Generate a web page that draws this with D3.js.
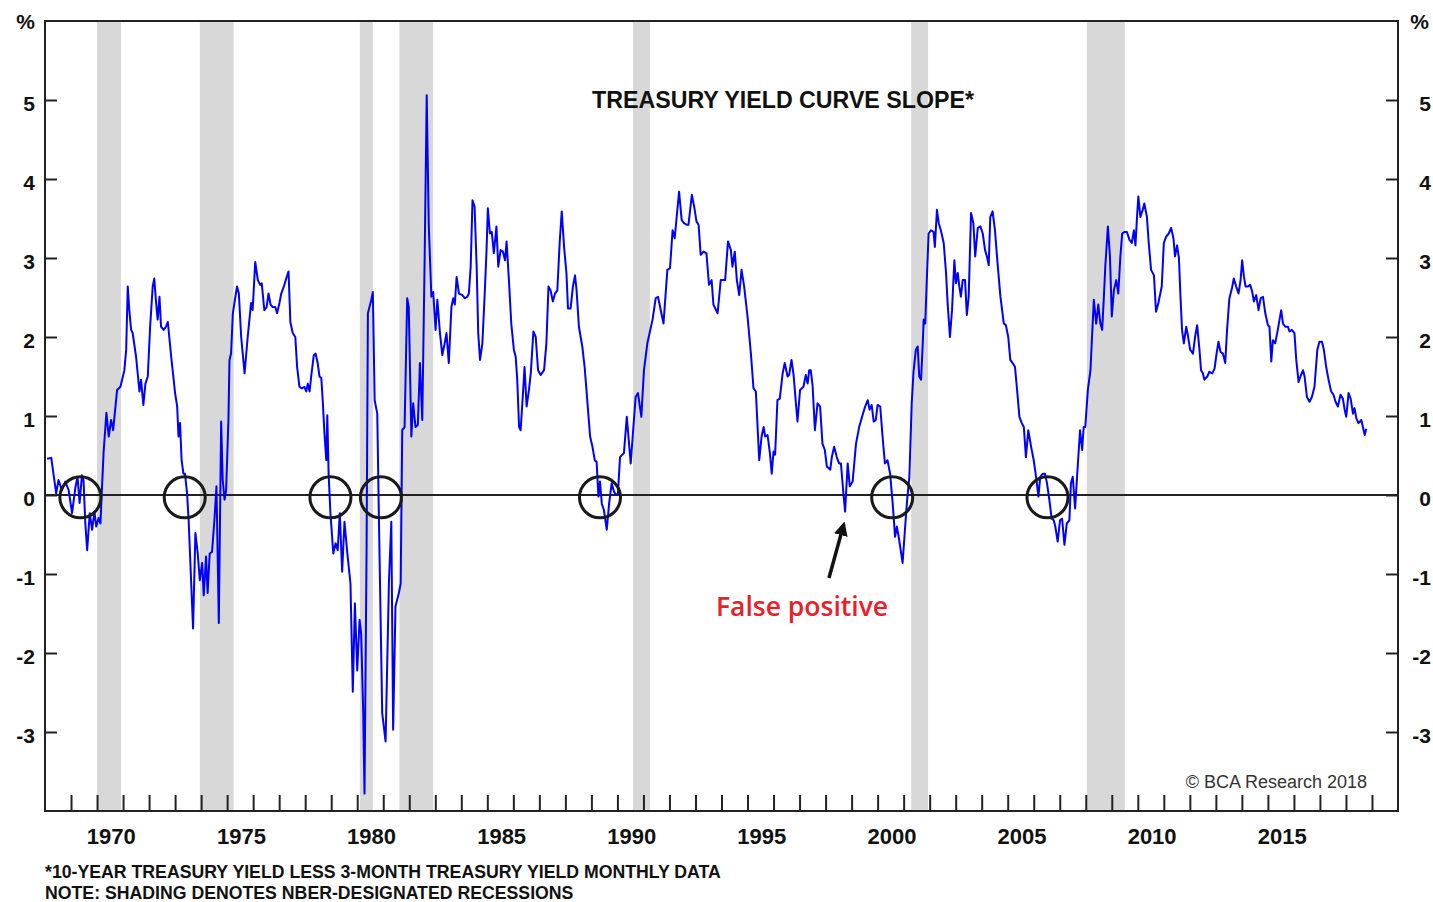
<!DOCTYPE html>
<html>
<head>
<meta charset="utf-8">
<script src="https://cdnjs.cloudflare.com/ajax/libs/d3/7.8.5/d3.min.js"></script>
<style>
    body { margin: 0; background: #fff; }
    svg text { font-family: "Liberation Sans", Arial, sans-serif; }
</style>
</head>
<body>
<div id="vis"></div>
<script>
// monthly readings (decimal year) of 10y less 3m treasury yield, %
var dates = [
    1968.08,1968.24,1968.43,1968.52,1968.65,1968.78,1968.91,
    1969.04,1969.17,1969.25,1969.33,1969.42,1969.48,1969.55,1969.62,1969.72,1969.81,1969.90,1969.97,
    1970.06,1970.13,1970.25,1970.36,1970.45,1970.54,1970.62,1970.77,1970.90,
    1971.05,1971.12,1971.18,1971.24,1971.31,1971.37,1971.50,1971.63,1971.69,1971.78,1971.86,1971.95,
    1972.04,1972.14,1972.20,1972.27,1972.33,1972.40,1972.46,1972.56,1972.65,1972.72,1972.85,
    1973.00,1973.08,1973.13,1973.19,1973.25,1973.32,1973.38,1973.46,1973.52,1973.69,1973.78,1973.87,1973.95,
    1974.04,1974.10,1974.19,1974.25,1974.33,1974.42,1974.51,1974.59,1974.68,1974.77,1974.83,1974.90,1974.96,
    1975.05,1975.09,1975.15,1975.22,1975.28,1975.38,1975.45,1975.54,1975.67,1975.79,1975.92,1975.98,
    1976.08,1976.18,1976.27,1976.33,1976.43,1976.52,1976.59,1976.67,1976.75,1976.85,1976.92,
    1977.01,1977.08,1977.18,1977.27,1977.36,1977.43,1977.52,1977.62,1977.69,1977.78,1977.87,1977.97,
    1978.04,1978.10,1978.17,1978.23,1978.33,1978.40,1978.48,1978.55,1978.62,1978.68,1978.74,1978.81,1978.85,1978.90,1978.97,
    1979.08,1979.17,1979.25,1979.33,1979.42,1979.51,1979.62,1979.74,1979.83,1979.91,
    1980.00,1980.09,1980.15,1980.23,1980.28,1980.36,1980.41,1980.54,1980.60,1980.67,1980.77,1980.83,1980.96,
    1981.09,1981.22,1981.31,1981.38,1981.47,1981.60,1981.67,1981.73,1981.82,1981.92,1981.98,
    1982.08,1982.15,1982.24,1982.33,1982.41,1982.50,1982.59,1982.67,1982.75,1982.85,1982.92,
    1983.01,1983.08,1983.18,1983.27,1983.36,1983.43,1983.52,1983.62,1983.69,1983.75,1983.82,1983.91,
    1984.04,1984.14,1984.23,1984.29,1984.36,1984.43,1984.51,1984.59,1984.65,1984.72,1984.81,1984.90,1984.97,
    1985.02,1985.10,1985.17,1985.25,1985.35,1985.42,1985.51,1985.60,1985.68,1985.74,1985.83,1985.92,
    1986.02,1986.09,1986.15,1986.22,1986.28,1986.37,1986.43,1986.51,1986.60,1986.67,1986.77,1986.86,1986.95,
    1987.05,1987.18,1987.27,1987.35,1987.43,1987.52,1987.60,1987.69,1987.78,1987.86,1987.95,
    1988.04,1988.10,1988.20,1988.29,1988.37,1988.43,1988.52,1988.65,1988.74,1988.85,1988.95,
    1989.04,1989.13,1989.20,1989.27,1989.33,1989.40,1989.48,1989.59,1989.68,1989.78,1989.87,1989.96,
    1990.02,1990.10,1990.25,1990.36,1990.51,1990.70,1990.79,1990.92,
    1991.02,1991.15,1991.35,1991.47,1991.56,1991.77,1991.92,
    1992.02,1992.12,1992.20,1992.37,1992.47,1992.56,1992.67,1992.73,1992.86,1992.95,
    1993.04,1993.12,1993.20,1993.31,1993.42,1993.52,1993.62,1993.69,1993.85,1993.97,
    1994.14,1994.25,1994.36,1994.42,1994.51,1994.59,1994.68,1994.77,1994.87,
    1995.00,1995.13,1995.23,1995.32,1995.45,1995.54,1995.62,1995.68,1995.77,1995.86,1995.93,
    1996.00,1996.06,1996.15,1996.24,1996.35,1996.43,1996.54,1996.60,1996.69,1996.77,1996.86,1996.92,
    1997.02,1997.15,1997.24,1997.31,1997.37,1997.43,1997.50,1997.59,1997.69,1997.79,1997.88,1997.97,
    1998.05,1998.18,1998.24,1998.33,1998.43,1998.52,1998.59,1998.69,1998.75,1998.85,1998.93,
    1999.04,1999.17,1999.29,1999.42,1999.52,1999.62,1999.69,1999.77,1999.85,1999.93,
    2000.00,2000.10,2000.19,2000.28,2000.38,2000.48,2000.58,2000.67,2000.74,2000.83,2000.96,
    2001.05,2001.13,2001.22,2001.31,2001.38,2001.47,2001.54,2001.60,2001.67,2001.73,2001.77,2001.83,2001.90,2001.96,
    2002.05,2002.15,2002.20,2002.28,2002.35,2002.43,2002.54,2002.63,2002.69,2002.78,2002.86,2002.95,
    2003.01,2003.08,2003.14,2003.20,2003.27,2003.36,2003.43,2003.50,2003.59,2003.68,2003.75,2003.85,2003.95,
    2004.04,2004.13,2004.20,2004.27,2004.33,2004.42,2004.51,2004.62,2004.72,2004.85,2004.93,
    2005.02,2005.10,2005.19,2005.28,2005.36,2005.45,2005.54,2005.62,2005.70,2005.79,2005.90,
    2006.00,2006.09,2006.18,2006.25,2006.35,2006.43,2006.51,2006.60,2006.69,2006.77,2006.83,2006.92,
    2007.01,2007.09,2007.18,2007.27,2007.37,2007.43,2007.50,2007.59,2007.69,2007.78,2007.86,2007.92,2007.98,
    2008.08,2008.18,2008.24,2008.31,2008.40,2008.48,2008.56,2008.63,2008.69,2008.75,2008.85,2008.93,
    2009.00,2009.08,2009.17,2009.25,2009.33,2009.40,2009.48,2009.58,2009.68,2009.77,2009.85,2009.91,2009.97,
    2010.02,2010.10,2010.19,2010.25,2010.35,2010.42,2010.51,2010.62,2010.70,2010.79,2010.92,
    2011.00,2011.09,2011.19,2011.28,2011.37,2011.43,2011.51,2011.58,2011.64,2011.70,2011.77,2011.86,2011.92,
    2012.01,2012.12,2012.20,2012.28,2012.37,2012.43,2012.50,2012.56,2012.67,2012.75,2012.86,2012.95,
    2013.01,2013.10,2013.18,2013.27,2013.36,2013.43,2013.52,2013.62,2013.69,2013.78,2013.87,2013.95,
    2014.01,2014.08,2014.14,2014.23,2014.32,2014.40,2014.46,2014.55,2014.64,2014.72,2014.81,2014.90,
    2015.00,2015.06,2015.13,2015.19,2015.28,2015.38,2015.51,2015.58,2015.67,2015.77,2015.83,2015.92,
    2016.02,2016.09,2016.18,2016.25,2016.35,2016.41,2016.50,2016.60,2016.69,2016.79,2016.90,2016.98,
    2017.08,2017.15,2017.24,2017.33,2017.43,2017.52,2017.60,2017.69,2017.79,2017.88,2017.95,
    2018.01,2018.10,2018.18,2018.27,2018.33,2018.40,2018.48,2018.59,2018.65,2018.72,2018.78
];
var slope = [
    0.46,0.47,0.02,0.19,0.06,0.17,0.06,
    -0.23,0.10,0.23,-0.10,0.25,0.19,-0.36,-0.70,-0.23,-0.44,-0.21,-0.40,
    -0.29,-0.36,0.53,1.04,0.74,0.95,0.82,1.33,1.37,
    1.58,1.84,2.64,2.34,2.09,2.05,1.75,1.31,1.46,1.14,1.41,1.50,
    2.13,2.64,2.74,2.43,2.22,2.51,2.13,2.09,2.13,2.19,1.75,
    1.29,1.12,0.74,0.91,0.44,0.27,0.27,0.02,-0.32,-1.69,-0.48,-0.74,-1.08,
    -0.86,-1.27,-0.78,-1.24,-0.74,-0.72,-0.32,0.11,-1.62,0.93,0.19,-0.06,0.06,
    0.95,1.71,1.79,2.30,2.43,2.64,2.55,2.00,1.54,2.00,2.43,2.34,
    2.95,2.72,2.66,2.68,2.34,2.38,2.55,2.41,2.38,2.38,2.30,
    2.43,2.55,2.64,2.74,2.83,2.19,2.05,2.00,1.62,1.37,1.35,1.37,
    1.31,1.41,1.31,1.50,1.77,1.79,1.67,1.50,1.48,1.16,0.78,0.44,1.01,0.27,-0.23,
    -0.74,-0.61,-0.70,-0.23,-0.97,-0.34,-0.74,-1.12,-2.49,-1.37,
    -2.22,-1.58,-1.75,-2.76,-3.78,-0.65,2.30,2.47,2.57,1.20,1.03,-0.23,-2.76,
    -3.12,-1.08,-0.34,-2.97,-1.41,-1.24,-1.12,0.82,0.86,2.49,2.38,
    0.74,1.16,0.86,0.89,1.67,0.95,2.97,5.06,3.40,2.51,2.57,
    2.09,2.47,2.05,1.77,1.92,2.05,1.67,2.38,2.49,2.41,2.76,2.55,
    2.53,2.49,2.51,2.55,2.89,3.73,3.65,2.89,2.05,1.71,1.92,2.55,3.10,
    3.63,3.31,3.33,3.06,3.40,2.89,3.10,3.08,2.97,3.21,2.72,2.17,
    1.84,1.75,1.46,0.86,0.82,1.29,1.62,1.12,1.33,1.54,2.07,2.00,1.58,
    1.52,1.58,1.92,2.64,2.59,2.45,2.55,2.59,3.19,3.59,3.14,
    2.81,2.36,2.36,2.64,2.78,2.59,2.13,1.88,1.62,1.16,0.74,
    0.61,0.44,0.42,-0.02,0.17,-0.11,-0.19,-0.44,-0.11,0.15,0.04,0.00,
    0.02,0.48,0.53,0.99,0.40,1.24,1.29,0.99,
    1.58,1.92,2.22,2.49,2.51,2.17,2.85,
    2.87,3.35,3.25,3.84,3.48,3.44,3.42,3.42,3.80,3.65,
    3.46,3.42,3.04,3.08,3.06,2.66,2.72,2.41,2.30,2.72,
    2.72,3.21,3.10,2.89,3.08,2.72,2.53,2.85,2.64,
    2.26,1.79,1.35,1.31,0.44,0.74,0.86,0.74,0.76,0.53,0.27,
    0.55,0.51,1.20,1.22,1.54,1.67,1.50,1.52,1.71,1.52,1.16,0.93,
    1.33,1.37,1.52,1.41,1.58,1.58,1.39,0.82,1.16,1.12,0.65,0.57,
    0.36,0.32,0.48,0.61,0.48,0.40,0.40,0.00,-0.21,0.40,0.11,
    0.17,0.65,0.86,1.01,1.12,1.20,1.08,1.14,0.93,0.95,
    1.14,1.12,0.74,0.40,0.44,0.27,-0.11,-0.53,-0.40,-0.57,-0.86,
    -0.44,-0.08,0.23,1.16,1.56,1.84,1.88,1.50,1.46,1.88,2.22,2.17,2.81,3.31,
    3.35,3.33,3.14,3.61,3.44,3.35,3.19,2.81,2.43,2.00,2.34,2.97,
    2.68,2.81,2.64,2.51,2.72,2.72,2.28,2.51,3.57,3.44,3.02,3.38,3.40,
    3.31,3.10,3.02,2.91,3.52,3.59,3.35,2.89,2.51,2.17,2.15,
    2.00,1.71,1.67,1.62,1.33,0.99,0.91,0.86,0.48,0.82,0.61,
    0.44,0.23,-0.02,0.23,0.27,0.27,0.15,-0.06,-0.30,-0.32,-0.40,-0.59,
    -0.32,-0.30,-0.63,-0.36,-0.32,0.15,0.23,-0.17,0.36,0.82,0.57,0.86,0.86,
    1.33,1.58,2.00,2.47,2.17,2.41,2.17,2.09,2.47,2.89,3.40,3.02,
    2.26,2.59,2.72,2.55,3.02,3.31,3.33,3.33,3.23,3.19,3.35,3.16,3.52,
    3.78,3.52,3.61,3.69,3.52,3.19,2.85,2.78,2.32,2.43,2.64,
    3.19,3.27,3.31,3.38,3.25,3.02,3.16,3.00,2.51,2.09,1.92,2.13,2.03,
    1.84,1.79,2.00,2.15,1.84,1.58,1.54,1.46,1.50,1.56,1.54,1.60,
    1.75,1.94,1.81,1.79,1.67,2.09,2.49,2.62,2.74,2.64,2.55,2.72,
    2.97,2.76,2.64,2.64,2.66,2.57,2.45,2.53,2.34,2.49,2.51,2.30,
    2.15,2.13,1.69,1.96,1.92,2.09,2.34,2.17,2.13,2.13,2.07,2.09,
    2.05,1.71,1.43,1.50,1.58,1.50,1.24,1.18,1.24,1.37,1.84,1.94,
    1.94,1.84,1.62,1.46,1.31,1.27,1.18,1.12,1.27,1.22,1.08,
    0.99,1.29,1.22,1.03,1.10,0.97,0.91,0.95,0.86,0.76,0.84
];

// NBER recessions, start and end as decimal years
var recStart = [1970.00, 1973.95, 1980.10, 1981.62, 1990.60, 2001.29, 2008.04];
var recEnd   = [1970.92, 1975.25, 1980.60, 1982.92, 1991.25, 2001.94, 2009.50];

// inversions circled on the zero line
var circleDates = [1969.36, 1973.37, 1978.97, 1980.91, 1989.33, 2000.56, 2006.53];

var yTicks = [-3, -2, -1, 0, 1, 2, 3, 4, 5];
var yearLabels = [1970, 1975, 1980, 1985, 1990, 1995, 2000, 2005, 2010, 2015];
var yearTicks = d3.range(1969, 2020);

// false positive arrow: [date, value] of tail and head
var arrowTail = [1998.13, -1.05];
var arrowHead = [1998.70, -0.37];

var width = 1433;
var height = 902;
var margin = { left: 45, right: 35, top: 21, bottom: 91 };
var plotRight = width - margin.right;
var plotBottom = height - margin.bottom;

var svg = d3.select('#vis')
    .append('svg')
    .attr('width', width)
    .attr('height', height)
    .style('display', 'block');

svg.append('rect').attr('width', width).attr('height', height).attr('fill', '#fff');

var xScale = d3.scaleLinear().domain([1968, 2020]).range([margin.left, plotRight]);
var yScale = d3.scaleLinear().domain([-4, 6]).range([plotBottom, margin.top]);

// recession shading
svg.append('g').selectAll('rect')
    .data(recStart)
    .enter().append('rect')
    .attr('x', d => xScale(d))
    .attr('width', (d, i) => xScale(recEnd[i]) - xScale(d))
    .attr('y', margin.top)
    .attr('height', plotBottom - margin.top)
    .attr('fill', '#d8d8d8');

// zero line
svg.append('line')
    .attr('x1', margin.left).attr('x2', plotRight)
    .attr('y1', yScale(0)).attr('y2', yScale(0))
    .attr('stroke', '#222').attr('stroke-width', 2);

var series = dates.map((d, i) => [d, slope[i]]);
var line = d3.line().x(d => xScale(d[0])).y(d => yScale(d[1]));

svg.append('path')
    .datum(series)
    .attr('d', line)
    .attr('fill', 'none')
    .attr('stroke', '#0000ff')
    .attr('stroke-width', 2)
    .attr('stroke-linejoin', 'round');

svg.append('g').selectAll('circle')
    .data(circleDates)
    .enter().append('circle')
    .attr('cx', d => xScale(d))
    .attr('cy', yScale(-0.03))
    .attr('r', 20.5)
    .attr('fill', 'none')
    .attr('stroke', '#1a1a1a')
    .attr('stroke-width', 3);

// axes, labels with plain hyphen for negatives
var fmt = d => String(d);

var leftAxis = svg.append('g')
    .attr('transform', 'translate(' + margin.left + ',0)')
    .call(d3.axisLeft(yScale).tickValues(yTicks).tickSize(-12).tickPadding(10).tickFormat(fmt));

var rightAxis = svg.append('g')
    .attr('transform', 'translate(' + plotRight + ',0)')
    .call(d3.axisRight(yScale).tickValues(yTicks).tickSize(-12).tickPadding(10).tickFormat(fmt));
rightAxis.selectAll('text').attr('text-anchor', 'end').attr('x', 33);

var bottomAxis = svg.append('g')
    .attr('transform', 'translate(0,' + plotBottom + ')')
    .call(d3.axisBottom(xScale).tickValues(yearTicks).tickSize(-16).tickFormat(''));

[leftAxis, rightAxis, bottomAxis].forEach(function(ax) {
    ax.select('.domain').remove();
    ax.selectAll('line').attr('stroke', '#222').attr('stroke-width', 2);
});
[leftAxis, rightAxis].forEach(function(ax) {
    ax.selectAll('text')
        .attr('dy', '0.5em')
        .style('font-size', '21px')
        .style('font-weight', 'bold')
        .attr('fill', '#111');
});

svg.append('g').selectAll('text')
    .data(yearLabels)
    .enter().append('text')
    .attr('x', d => xScale(d + 0.55))
    .attr('y', plotBottom + 33)
    .attr('text-anchor', 'middle')
    .style('font-size', '22px')
    .style('font-weight', 'bold')
    .attr('fill', '#111')
    .text(d => d);

// frame
svg.append('rect')
    .attr('x', margin.left).attr('y', margin.top)
    .attr('width', plotRight - margin.left)
    .attr('height', plotBottom - margin.top)
    .attr('fill', 'none')
    .attr('stroke', '#222')
    .attr('stroke-width', 2);

// texts
svg.append('text').attr('x', 35).attr('y', 29).attr('text-anchor', 'end')
    .style('font-size', '21px').style('font-weight', 'bold').attr('fill', '#111').text('%');
svg.append('text').attr('x', 1429).attr('y', 29).attr('text-anchor', 'end')
    .style('font-size', '21px').style('font-weight', 'bold').attr('fill', '#111').text('%');

svg.append('text')
    .attr('x', 783).attr('y', 108)
    .attr('text-anchor', 'middle')
    .style('font-size', '23.2px').style('font-weight', 'bold').attr('fill', '#111')
    .text('TREASURY YIELD CURVE SLOPE*');

svg.append('text')
    .attr('x', 1367).attr('y', 788)
    .attr('text-anchor', 'end')
    .style('font-size', '18px').attr('fill', '#333')
    .text('\u00A9 BCA Research 2018');

svg.append('text')
    .attr('x', 45).attr('y', 878)
    .style('font-size', '17.7px').style('font-weight', 'bold').attr('fill', '#111')
    .text('*10-YEAR TREASURY YIELD LESS 3-MONTH TREASURY YIELD MONTHLY DATA');
svg.append('text')
    .attr('x', 45).attr('y', 899)
    .style('font-size', '17.7px').style('font-weight', 'bold').attr('fill', '#111')
    .text('NOTE: SHADING DENOTES NBER-DESIGNATED RECESSIONS');

// false positive annotation
svg.append('defs').append('marker')
    .attr('id', 'head')
    .attr('viewBox', '0 0 10 10')
    .attr('refX', 8).attr('refY', 5)
    .attr('markerWidth', 4).attr('markerHeight', 4.5)
    .attr('orient', 'auto')
    .append('path').attr('d', 'M0,0 L10,5 L0,10 z').attr('fill', '#111');

svg.append('line')
    .attr('x1', xScale(arrowTail[0])).attr('y1', yScale(arrowTail[1]))
    .attr('x2', xScale(arrowHead[0])).attr('y2', yScale(arrowHead[1]))
    .attr('stroke', '#111').attr('stroke-width', 3.5)
    .attr('marker-end', 'url(#head)');

svg.append('text')
    .attr('x', 802).attr('y', 616)
    .attr('text-anchor', 'middle')
    .style('font-family', '"Open Sans", sans-serif')
    .style('font-size', '26.5px').style('font-weight', 600)
    .attr('fill', '#e8202a')
    .text('False positive');
</script>
</body>
</html>
